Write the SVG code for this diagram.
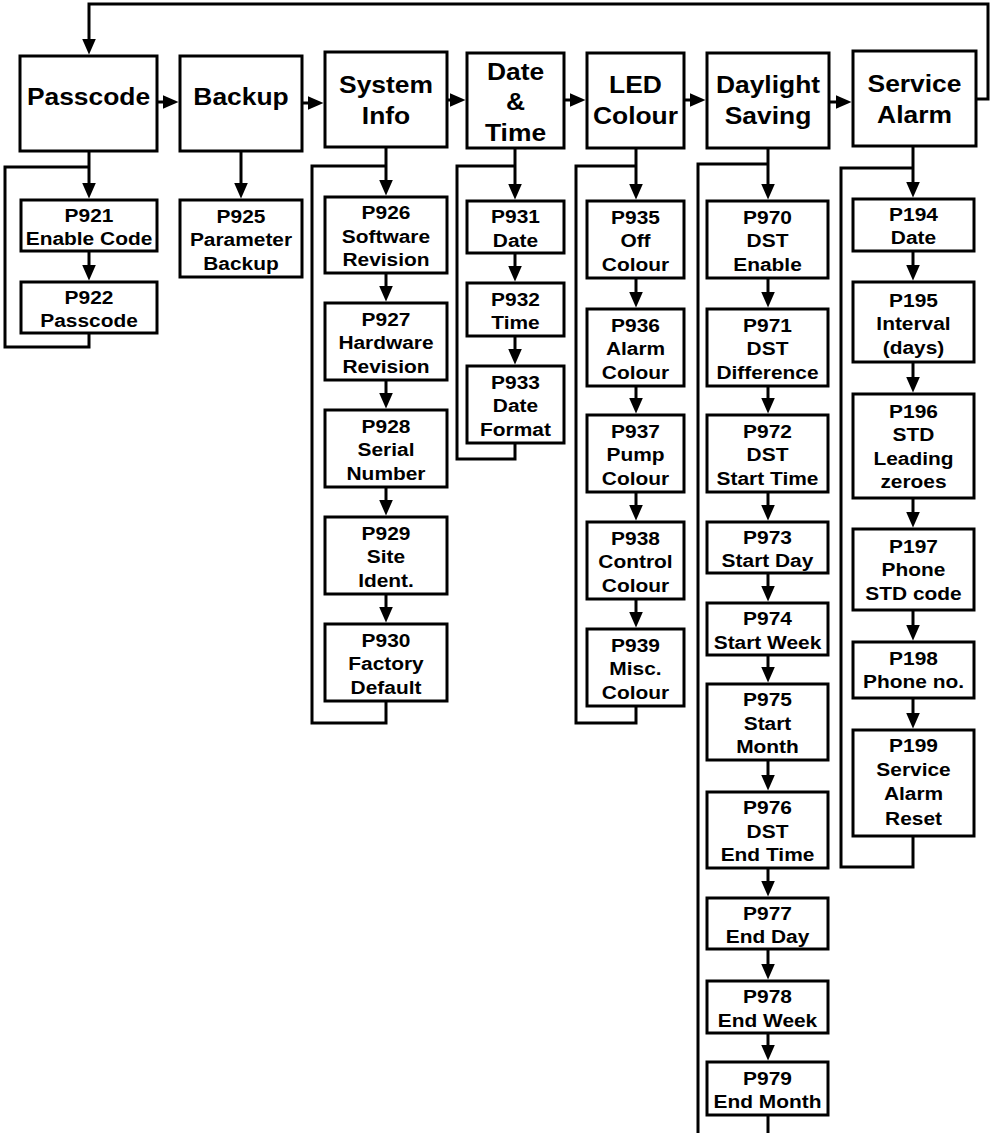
<svg xmlns="http://www.w3.org/2000/svg" width="994" height="1133" viewBox="0 0 994 1133">
<style>
.box{fill:#fff;stroke:#000;stroke-width:3}
.conn{fill:none;stroke:#000;stroke-width:3}
.arr{marker-end:url(#ah)}
.t1{font-family:"Liberation Sans",Arial,sans-serif;font-weight:bold;font-size:24px;text-anchor:middle;fill:#000}
.t2{font-family:"Liberation Sans",Arial,sans-serif;font-weight:bold;font-size:19px;text-anchor:middle;fill:#000}
</style>
<defs>
<marker id="ah" markerUnits="userSpaceOnUse" markerWidth="16" markerHeight="14" refX="10" refY="7" orient="auto"><path d="M0,0 L16,7 L0,14 Z" fill="#000"/></marker>
</defs>
<rect x="0" y="0" width="994" height="1133" fill="#fff"/>
<g id="connectors">
<path class="conn arr" d="M157 102 H172.5"/>
<path class="conn arr" d="M302 103 H317.5"/>
<path class="conn arr" d="M447 100 H459.5"/>
<path class="conn arr" d="M564 100 H579.5"/>
<path class="conn arr" d="M684 100 H699.5"/>
<path class="conn arr" d="M829 102 H845.5"/>
<path class="conn arr" d="M976 99 H988 V4 H89 V48.5"/>
<path class="conn arr" d="M89 151 V192.5"/>
<path class="conn arr" d="M89 251 V274.5"/>
<path class="conn" d="M89 333 V347 H5 V167 H89"/>
<path class="conn arr" d="M241 151 V192.5"/>
<path class="conn arr" d="M386 147 V189.5"/>
<path class="conn arr" d="M386 273 V295.5"/>
<path class="conn arr" d="M386 380 V402.5"/>
<path class="conn arr" d="M386 487 V509.5"/>
<path class="conn arr" d="M386 594 V616.5"/>
<path class="conn" d="M386 701 V723 H312 V166 H386"/>
<path class="conn arr" d="M515 148 V193.5"/>
<path class="conn arr" d="M515 253 V275.5"/>
<path class="conn arr" d="M515 336 V358.5"/>
<path class="conn" d="M515 443 V459 H457 V166 H515"/>
<path class="conn arr" d="M636 148 V193.5"/>
<path class="conn arr" d="M636 278 V301.5"/>
<path class="conn arr" d="M636 386 V407.5"/>
<path class="conn arr" d="M636 492 V514.5"/>
<path class="conn arr" d="M636 599 V621.5"/>
<path class="conn" d="M636 706 V723 H576 V166 H636"/>
<path class="conn arr" d="M768 148 V193.5"/>
<path class="conn arr" d="M768 278 V301.5"/>
<path class="conn arr" d="M768 386 V407.5"/>
<path class="conn arr" d="M768 492 V514.5"/>
<path class="conn arr" d="M768 573 V595.5"/>
<path class="conn arr" d="M768 655 V676.5"/>
<path class="conn arr" d="M768 760 V784.5"/>
<path class="conn arr" d="M768 868 V890.5"/>
<path class="conn arr" d="M768 949 V973.5"/>
<path class="conn arr" d="M768 1033 V1054.5"/>
<path class="conn" d="M768 1115 V1140"/>
<path class="conn" d="M768 164 H698 V1140"/>
<path class="conn arr" d="M913 146 V191.5"/>
<path class="conn arr" d="M913 251 V274.5"/>
<path class="conn arr" d="M913 362 V386.5"/>
<path class="conn arr" d="M913 498 V521.5"/>
<path class="conn arr" d="M913 610 V634.5"/>
<path class="conn arr" d="M913 698 V722.5"/>
<path class="conn" d="M913 836 V867 H841 V168 H913"/>
</g>
<g id="passcode"><rect class="box" x="20" y="56" width="137" height="95"/><text class="t1" transform="translate(88.5 0) scale(1.1 1)"><tspan x="0" y="105">Passcode</tspan></text></g>
<g id="backup"><rect class="box" x="180" y="56" width="122" height="95"/><text class="t1" transform="translate(241 0) scale(1.1 1)"><tspan x="0" y="105">Backup</tspan></text></g>
<g id="systeminfo"><rect class="box" x="325" y="52" width="122" height="95"/><text class="t1" transform="translate(386 0) scale(1.1 1)"><tspan x="0" y="93">System</tspan><tspan x="0" y="124">Info</tspan></text></g>
<g id="datetime"><rect class="box" x="467" y="53" width="97" height="95"/><text class="t1" transform="translate(515.5 0) scale(1.1 1)"><tspan x="0" y="80">Date</tspan><tspan x="0" y="110.5">&amp;</tspan><tspan x="0" y="141">Time</tspan></text></g>
<g id="ledcolour"><rect class="box" x="587" y="53" width="97" height="95"/><text class="t1" transform="translate(635.5 0) scale(1.1 1)"><tspan x="0" y="93">LED</tspan><tspan x="0" y="124">Colour</tspan></text></g>
<g id="daylight"><rect class="box" x="707" y="53" width="122" height="95"/><text class="t1" transform="translate(768 0) scale(1.1 1)"><tspan x="0" y="93">Daylight</tspan><tspan x="0" y="124">Saving</tspan></text></g>
<g id="servicealarm"><rect class="box" x="853" y="51" width="123" height="95"/><text class="t1" transform="translate(914.5 0) scale(1.1 1)"><tspan x="0" y="92">Service</tspan><tspan x="0" y="123">Alarm</tspan></text></g>

<g id="p921"><rect class="box" x="21" y="200" width="136" height="51"/><text class="t2" transform="translate(89 0) scale(1.1 1)"><tspan x="0" y="222">P921</tspan><tspan x="0" y="245.5">Enable Code</tspan></text></g>
<g id="p922"><rect class="box" x="21" y="282" width="136" height="51"/><text class="t2" transform="translate(89 0) scale(1.1 1)"><tspan x="0" y="304">P922</tspan><tspan x="0" y="327.5">Passcode</tspan></text></g>
<g id="p925"><rect class="box" x="180" y="200" width="122" height="77"/><text class="t2" transform="translate(241 0) scale(1.1 1)"><tspan x="0" y="223">P925</tspan><tspan x="0" y="246.5">Parameter</tspan><tspan x="0" y="270">Backup</tspan></text></g>

<g id="p926"><rect class="box" x="325" y="197" width="122" height="76"/><text class="t2" transform="translate(386 0) scale(1.1 1)"><tspan x="0" y="219.5">P926</tspan><tspan x="0" y="243">Software</tspan><tspan x="0" y="266.5">Revision</tspan></text></g>
<g id="p927"><rect class="box" x="325" y="303" width="122" height="77"/><text class="t2" transform="translate(386 0) scale(1.1 1)"><tspan x="0" y="326">P927</tspan><tspan x="0" y="349.5">Hardware</tspan><tspan x="0" y="373">Revision</tspan></text></g>
<g id="p928"><rect class="box" x="325" y="410" width="122" height="77"/><text class="t2" transform="translate(386 0) scale(1.1 1)"><tspan x="0" y="433">P928</tspan><tspan x="0" y="456.5">Serial</tspan><tspan x="0" y="480">Number</tspan></text></g>
<g id="p929"><rect class="box" x="325" y="517" width="122" height="77"/><text class="t2" transform="translate(386 0) scale(1.1 1)"><tspan x="0" y="540">P929</tspan><tspan x="0" y="563.5">Site</tspan><tspan x="0" y="587">Ident.</tspan></text></g>
<g id="p930"><rect class="box" x="325" y="624" width="122" height="77"/><text class="t2" transform="translate(386 0) scale(1.1 1)"><tspan x="0" y="647">P930</tspan><tspan x="0" y="670.5">Factory</tspan><tspan x="0" y="694">Default</tspan></text></g>

<g id="p931"><rect class="box" x="467" y="201" width="97" height="52"/><text class="t2" transform="translate(515.5 0) scale(1.1 1)"><tspan x="0" y="223.5">P931</tspan><tspan x="0" y="247">Date</tspan></text></g>
<g id="p932"><rect class="box" x="467" y="283" width="97" height="53"/><text class="t2" transform="translate(515.5 0) scale(1.1 1)"><tspan x="0" y="306">P932</tspan><tspan x="0" y="329.5">Time</tspan></text></g>
<g id="p933"><rect class="box" x="467" y="366" width="97" height="77"/><text class="t2" transform="translate(515.5 0) scale(1.1 1)"><tspan x="0" y="389">P933</tspan><tspan x="0" y="412.5">Date</tspan><tspan x="0" y="436">Format</tspan></text></g>

<g id="p935"><rect class="box" x="587" y="201" width="97" height="77"/><text class="t2" transform="translate(635.5 0) scale(1.1 1)"><tspan x="0" y="224">P935</tspan><tspan x="0" y="247.5">Off</tspan><tspan x="0" y="271">Colour</tspan></text></g>
<g id="p936"><rect class="box" x="587" y="309" width="97" height="77"/><text class="t2" transform="translate(635.5 0) scale(1.1 1)"><tspan x="0" y="332">P936</tspan><tspan x="0" y="355.5">Alarm</tspan><tspan x="0" y="379">Colour</tspan></text></g>
<g id="p937"><rect class="box" x="587" y="415" width="97" height="77"/><text class="t2" transform="translate(635.5 0) scale(1.1 1)"><tspan x="0" y="438">P937</tspan><tspan x="0" y="461.5">Pump</tspan><tspan x="0" y="485">Colour</tspan></text></g>
<g id="p938"><rect class="box" x="587" y="522" width="97" height="77"/><text class="t2" transform="translate(635.5 0) scale(1.1 1)"><tspan x="0" y="545">P938</tspan><tspan x="0" y="568.5">Control</tspan><tspan x="0" y="592">Colour</tspan></text></g>
<g id="p939"><rect class="box" x="587" y="629" width="97" height="77"/><text class="t2" transform="translate(635.5 0) scale(1.1 1)"><tspan x="0" y="652">P939</tspan><tspan x="0" y="675.5">Misc.</tspan><tspan x="0" y="699">Colour</tspan></text></g>

<g id="p970"><rect class="box" x="707" y="201" width="121" height="77"/><text class="t2" transform="translate(767.5 0) scale(1.1 1)"><tspan x="0" y="224">P970</tspan><tspan x="0" y="247.5">DST</tspan><tspan x="0" y="271">Enable</tspan></text></g>
<g id="p971"><rect class="box" x="707" y="309" width="121" height="77"/><text class="t2" transform="translate(767.5 0) scale(1.1 1)"><tspan x="0" y="332">P971</tspan><tspan x="0" y="355.5">DST</tspan><tspan x="0" y="379">Difference</tspan></text></g>
<g id="p972"><rect class="box" x="707" y="415" width="121" height="77"/><text class="t2" transform="translate(767.5 0) scale(1.1 1)"><tspan x="0" y="438">P972</tspan><tspan x="0" y="461.5">DST</tspan><tspan x="0" y="485">Start Time</tspan></text></g>
<g id="p973"><rect class="box" x="707" y="522" width="121" height="51"/><text class="t2" transform="translate(767.5 0) scale(1.1 1)"><tspan x="0" y="544">P973</tspan><tspan x="0" y="567.5">Start Day</tspan></text></g>
<g id="p974"><rect class="box" x="707" y="603" width="121" height="52"/><text class="t2" transform="translate(767.5 0) scale(1.1 1)"><tspan x="0" y="625.5">P974</tspan><tspan x="0" y="649">Start Week</tspan></text></g>
<g id="p975"><rect class="box" x="707" y="684" width="121" height="76"/><text class="t2" transform="translate(767.5 0) scale(1.1 1)"><tspan x="0" y="706.5">P975</tspan><tspan x="0" y="730">Start</tspan><tspan x="0" y="753.5">Month</tspan></text></g>
<g id="p976"><rect class="box" x="707" y="792" width="121" height="76"/><text class="t2" transform="translate(767.5 0) scale(1.1 1)"><tspan x="0" y="814.5">P976</tspan><tspan x="0" y="838">DST</tspan><tspan x="0" y="861.5">End Time</tspan></text></g>
<g id="p977"><rect class="box" x="707" y="898" width="121" height="51"/><text class="t2" transform="translate(767.5 0) scale(1.1 1)"><tspan x="0" y="920">P977</tspan><tspan x="0" y="943.5">End Day</tspan></text></g>
<g id="p978"><rect class="box" x="707" y="981" width="121" height="52"/><text class="t2" transform="translate(767.5 0) scale(1.1 1)"><tspan x="0" y="1003.5">P978</tspan><tspan x="0" y="1027">End Week</tspan></text></g>
<g id="p979"><rect class="box" x="707" y="1062" width="121" height="53"/><text class="t2" transform="translate(767.5 0) scale(1.1 1)"><tspan x="0" y="1085">P979</tspan><tspan x="0" y="1108.5">End Month</tspan></text></g>

<g id="p194"><rect class="box" x="853" y="199" width="121" height="52"/><text class="t2" transform="translate(913.5 0) scale(1.1 1)"><tspan x="0" y="221.5">P194</tspan><tspan x="0" y="244.5">Date</tspan></text></g>
<g id="p195"><rect class="box" x="853" y="282" width="121" height="80"/><text class="t2" transform="translate(913.5 0) scale(1.1 1)"><tspan x="0" y="307">P195</tspan><tspan x="0" y="330.5">Interval</tspan><tspan x="0" y="354">(days)</tspan></text></g>
<g id="p196"><rect class="box" x="853" y="394" width="121" height="104"/><text class="t2" transform="translate(913.5 0) scale(1.1 1)"><tspan x="0" y="418">P196</tspan><tspan x="0" y="441.5">STD</tspan><tspan x="0" y="465">Leading</tspan><tspan x="0" y="488.5">zeroes</tspan></text></g>
<g id="p197"><rect class="box" x="853" y="529" width="121" height="81"/><text class="t2" transform="translate(913.5 0) scale(1.1 1)"><tspan x="0" y="553">P197</tspan><tspan x="0" y="576.5">Phone</tspan><tspan x="0" y="600">STD code</tspan></text></g>
<g id="p198"><rect class="box" x="853" y="642" width="121" height="56"/><text class="t2" transform="translate(913.5 0) scale(1.1 1)"><tspan x="0" y="665">P198</tspan><tspan x="0" y="688.5">Phone no.</tspan></text></g>
<g id="p199"><rect class="box" x="853" y="730" width="121" height="106"/><text class="t2" transform="translate(913.5 0) scale(1.1 1)"><tspan x="0" y="752.5">P199</tspan><tspan x="0" y="776.5">Service</tspan><tspan x="0" y="800.5">Alarm</tspan><tspan x="0" y="825">Reset</tspan></text></g>
</svg>
